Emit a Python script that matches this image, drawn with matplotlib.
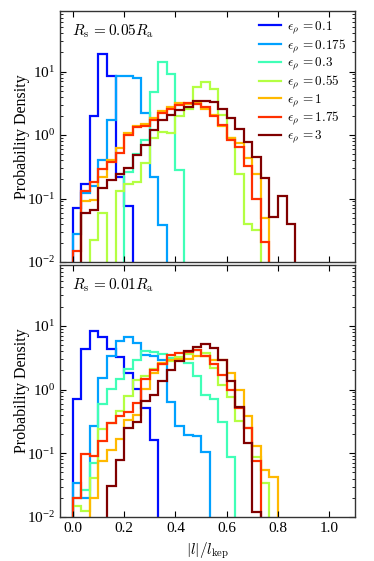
import numpy as np
import matplotlib
matplotlib.use("Agg")
import matplotlib.pyplot as plt

plt.rcParams['font.family'] = ['Liberation Serif', 'DejaVu Serif']
plt.rcParams['mathtext.fontset'] = 'cm'
plt.rcParams['axes.unicode_minus'] = False

edges = np.linspace(0.0, 1.0, 31)
eps_labels = ["0.1", "0.175", "0.3", "0.55", "1", "1.75", "3"]
cvals = np.linspace(0.14, 1.0, 7)

def pad(v):
    v = list(v)
    return np.array(v + [0.0] * (30 - len(v)))

# Top panel: R_s = 0.05 R_a
top_01 = pad([0.072, 0.17, 2.0, 19, 8.6, 0.22, 0.075])
top_0175 = pad([0.028, 0.12, 0.16, 0.40, 1.75, 8.4, 8.4, 7.9, 2.2, 0.22, 0.038])
top_03 = pad([0, 0, 0, 0, 0, 0, 0.26, 0.50, 0.83, 4.8, 14.4, 9.0, 0.28])
top_055 = pad([0, 0, 0.022, 0.060, 0, 0.13, 0.17, 0.185, 0.36, 0.90, 1.10, 1.06,
               2.0, 2.6, 5.8, 6.95, 5.3, 2.07, 0.89, 0.24, 0.040, 0.032])
top_1 = pad([0, 0.093, 0.095, 0.22, 0.41, 0.62, 1.08, 1.37, 1.49, 1.85, 2.35, 2.73,
             3.24, 3.1, 3.15, 2.6, 2.07, 1.39, 0.89, 0.74, 0.43, 0.24, 0.050])
top_175 = pad([0.015, 0.13, 0.185, 0.29, 0.38, 0.52, 1.01, 1.32, 1.37, 1.75, 2.2, 2.57,
               2.98, 3.15, 3.1, 2.8, 2.0, 1.44, 0.83, 0.64, 0.32, 0.10, 0.021])
top_3 = pad([0, 0.059, 0.066, 0.146, 0.197, 0.245, 0.30, 0.49, 0.70, 1.21, 1.75, 2.07,
             2.48, 2.8, 3.4, 3.5, 3.3, 2.54, 1.83, 1.23, 0.78, 0.45, 0.207, 0.051,
             0.109, 0.039])

# Bottom panel: R_s = 0.01 R_a
bot_01 = pad([0.70, 4.4, 8.3, 6.75, 4.4, 3.27, 1.79, 1.03, 0.51, 0.163])
bot_0175 = pad([0.034, 0.02, 0.265, 1.53, 3.3, 5.8, 6.75, 5.3, 3.43, 3.4, 2.96, 0.63,
                0.27, 0.195, 0.185, 0.104])
bot_03 = pad([0.02, 0.027, 0.07, 0.59, 1.03, 1.47, 2.1, 2.86, 4.0, 3.9, 3.56, 3.15,
              3.15, 2.63, 1.62, 0.83, 0.71, 0.31, 0.086])
bot_055 = pad([0.0149, 0.0126, 0.041, 0.24, 0.30, 0.456, 0.80, 1.40, 1.66, 2.07, 2.48,
               2.8, 3.2, 3.6, 4.1, 3.8, 2.19, 1.16, 0.77, 0.32, 0.25, 0.087, 0.034])
bot_1 = pad([0, 0, 0.020, 0.077, 0.114, 0.167, 0.33, 0.40, 1.03, 1.83, 2.63, 2.9,
             3.0, 3.04, 3.3, 3.35, 2.96, 2.86, 1.83, 1.0, 0.38, 0.131, 0.055, 0.043])
bot_175 = pad([0.0197, 0.098, 0.089, 0.157, 0.30, 0.39, 0.44, 0.62, 1.44, 2.0, 2.5,
               3.5, 3.7, 3.85, 4.2, 3.35, 2.5, 1.72, 1.0, 0.51, 0.25, 0.077])
bot_3 = pad([0, 0, 0, 0, 0.031, 0.079, 0.25, 0.31, 0.655, 0.83, 1.35, 2.0, 2.8, 4.0,
             4.7, 5.1, 4.5, 2.9, 1.35, 0.53, 0.145, 0.012])

top_series = [top_01, top_0175, top_03, top_055, top_1, top_175, top_3]
bot_series = [bot_01, bot_0175, bot_03, bot_055, bot_1, bot_175, bot_3]

fig = plt.figure(figsize=(3.74, 5.61), dpi=100)
W, H = 374.0, 561.0
ax1 = fig.add_axes([60 / W, 1 - 262 / H, 295 / W, 251 / H])
ax2 = fig.add_axes([60 / W, 1 - 517 / H, 295 / W, 252 / H])

cmap = plt.get_cmap('jet')
for ax, series, title in [(ax1, top_series, r"$R_{\rm s}\,{=}0.05R_{\rm a}$"),
                          (ax2, bot_series, r"$R_{\rm s}\,{=}0.01R_{\rm a}$")]:
    for k, (vals, lab) in enumerate(zip(series, eps_labels)):
        ax.stairs(vals, edges, baseline=1e-6, color=cmap(cvals[k]), lw=1.6,
                  label=r"$\epsilon_\rho\,{=}$" + r"$" + lab + r"$")
    ax.set_yscale('log')
    ax.set_ylim(1e-2, 90)
    ax.set_xlim(-0.05, 1.1)
    ax.set_xticks([0.0, 0.2, 0.4, 0.6, 0.8, 1.0])
    ax.tick_params(which='both', direction='in', top=True, right=True, labelsize=11)
    ax.tick_params(which='major', length=4)
    ax.tick_params(which='minor', length=2)
    ax.set_ylabel("Probability Density", fontsize=11.5)
    ax.text(0.04, 0.955, title, transform=ax.transAxes, fontsize=11, va='top', ha='left')
    for s in ax.spines.values():
        s.set_linewidth(1.0)
        s.set_color('#333333')

ax1.set_xticklabels([])
ax1.legend(loc='upper right', frameon=False, fontsize=9.5, handlelength=1.7,
           labelspacing=0.1, borderaxespad=0.25, handletextpad=0.45)
ax2.set_xticklabels(["0.0", "0.2", "0.4", "0.6", "0.8", "1.0"])
ax2.set_xlabel(r"$|l|/l_{\rm kep}$", fontsize=11)
ax1.yaxis.set_label_coords(-0.10, 0.5)
ax2.yaxis.set_label_coords(-0.10, 0.5)

fig.savefig("out.png", dpi=100)
